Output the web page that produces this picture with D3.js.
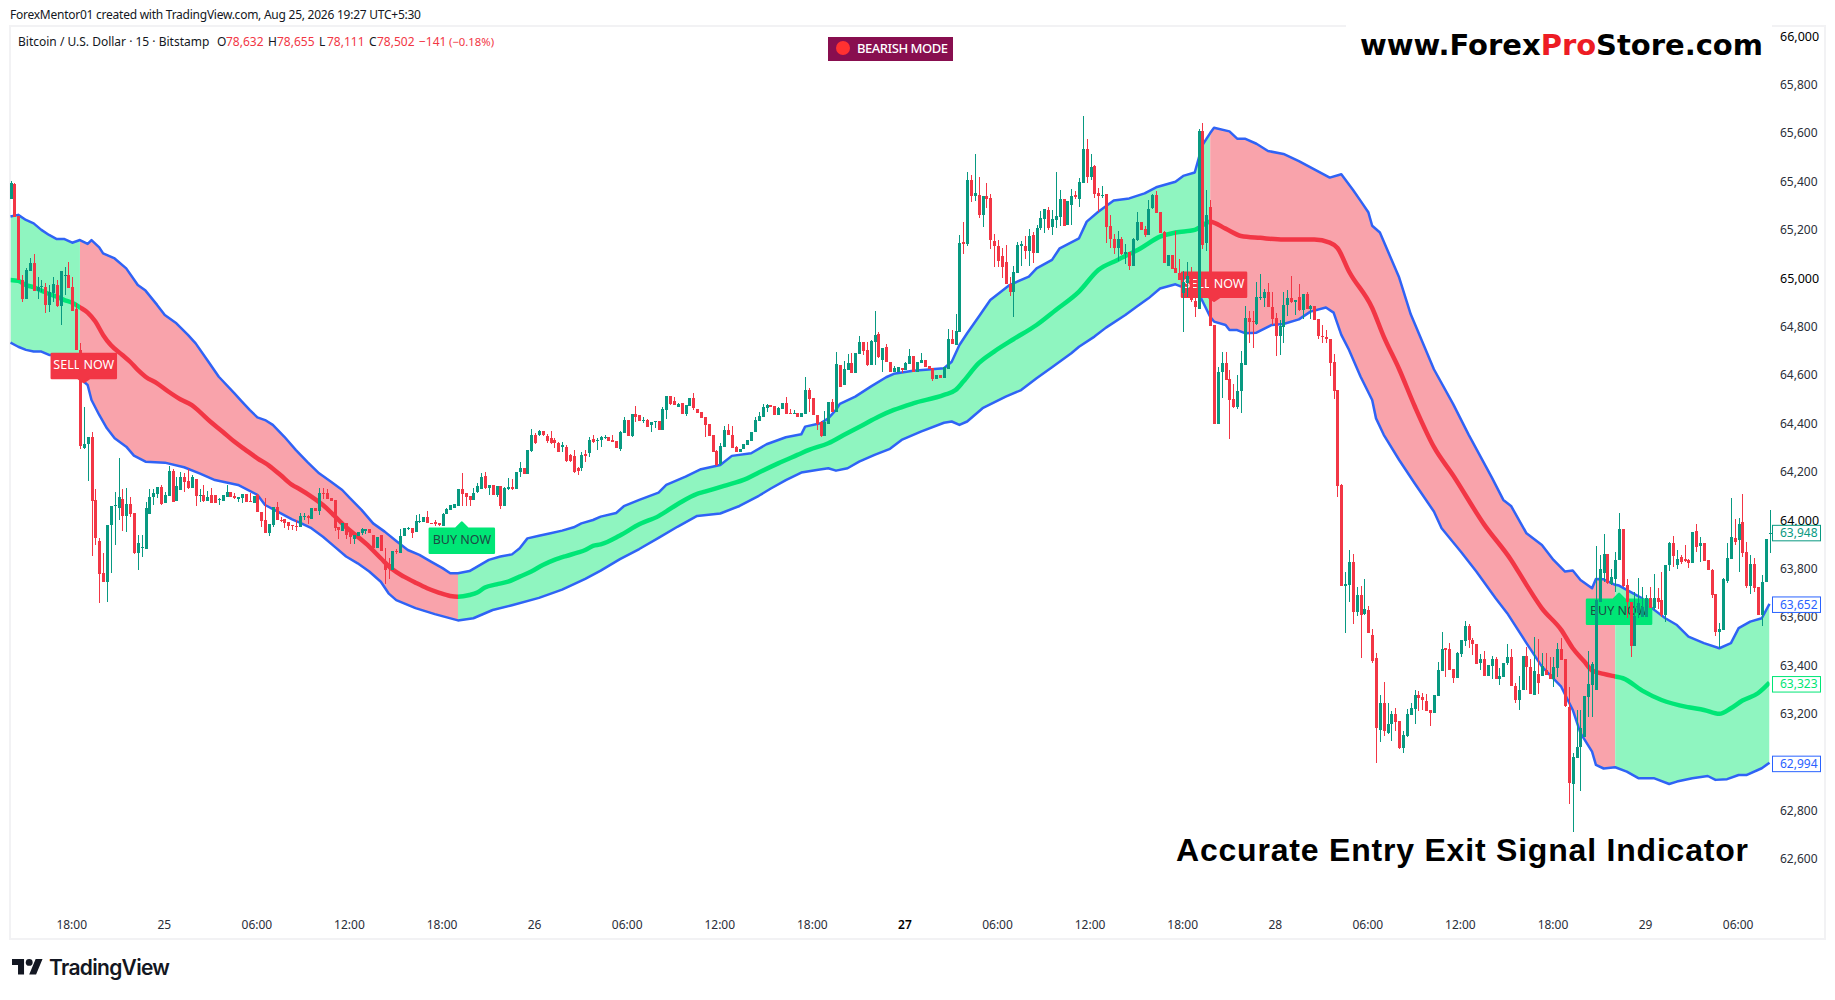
<!DOCTYPE html>
<html lang="en">
<head>
  <meta charset="UTF-8">
  <title>BTCUSD 15m - Entry Exit Signal Indicator</title>
  <style>
    body { margin: 0; background: #fff; overflow: hidden; }
    svg { display: block; }
    text { font-family: "Noto Sans", sans-serif; fill: #131722; }
    .tick text { font-family: "Noto Sans", sans-serif; font-size: 12px; fill: #2a2e39; }
    .tick.major text { font-size: 12.5px; fill: #000; }
    .up { fill: #089981; }
    .down { fill: #f23645; }
  </style>
</head>
<body>
  <div id="chart"></div>

  <script src="https://d3js.org/d3.v7.min.js"></script>
  <script>
    // candles, one per 15 minutes
    const opens = [
      65326,65390,65257,64993,64914,65032,65062,64949,64963,64963,
      64890,64941,64972,64887,65011,65014,64963,64872,64704,64300,
      64314,64343,64084,63916,63784,63746,63981,64059,64052,64088,
      64019,64067,64029,63863,63887,63881,64026,64095,64109,64139,
      64070,64100,64205,64080,64125,64178,64162,64132,64171,64100,
      64105,64080,64105,64105,64082,64081,64095,64118,64102,64087,
      64091,64109,64078,64073,64105,64036,64001,63946,63981,64056,
      64001,64004,63992,63981,63978,63974,64014,64018,64005,64052,
      64038,64111,64111,64092,64082,63971,63957,63987,63946,63921,
      63935,63946,63957,63964,63939,63884,63939,63829,63819,63795,
      63873,63866,63935,63964,63967,63952,63994,63994,64012,63989,
      63992,63989,63978,64026,64043,64049,64060,64128,64111,64100,
      64084,64118,64129,64183,64132,64146,64103,64142,64059,64129,
      64138,64131,64198,64215,64191,64286,64354,64354,64367,64349,
      64340,64332,64321,64304,64304,64270,64266,64215,64215,64274,
      64276,64335,64329,64332,64341,64343,64332,64326,64295,64362,
      64414,64348,64438,64435,64409,64413,64394,64406,64410,64373,
      64456,64514,64492,64470,64486,64438,64472,64505,64460,64447,
      64427,64398,64352,64288,64231,64304,64373,64352,64304,64280,
      64293,64313,64329,64365,64412,64428,64465,64476,64472,64435,
      64460,64485,64443,64441,64443,64427,64441,64538,64505,64435,
      64405,64348,64398,64489,64449,64642,64558,64621,64650,64610,
      64689,64737,64702,64642,64737,64768,64662,64716,64655,64614,
      64614,64629,64621,64645,64679,64614,64651,64662,64638,64628,
      64585,64600,64589,64626,64749,64725,64780,65149,65142,65406,
      65340,65343,65262,65340,65332,65154,65133,65092,65066,64975,
      64942,65023,65135,65133,65113,65179,65106,65207,65245,65282,
      65211,65241,65255,65328,65220,65303,65344,65326,65395,65534,
      65417,65464,65351,65340,65347,65216,65164,65124,65161,65099,
      65107,65052,65158,65233,65204,65179,65289,65344,65274,65191,
      65052,65096,65041,65020,64941,64982,65007,64906,64873,65609,
      65145,65293,64806,64396,64614,64649,64583,64500,64467,64536,
      64643,64835,64824,64811,64917,64917,64942,64883,64835,64763,
      64800,64890,64919,64901,64921,64869,64935,64872,64886,64832,
      64762,64756,64749,64654,64538,64146,63730,63733,63826,63622,
      63691,63613,63629,63526,63430,63133,63244,63120,63158,63200,
      63169,63058,63109,63196,63219,63278,63271,63253,63216,63205,
      63274,63379,63471,63468,63386,63350,63448,63503,63563,63505,
      63489,63409,63427,63358,63398,63427,63343,63354,63412,63434,
      63315,63257,63299,63439,63395,63278,63365,63358,63381,63363,
      63344,63391,63468,63427,63227,62910,63016,63062,63103,63271,
      63319,63299,63664,63784,63861,63737,63757,63836,63964,63733,
      63661,63482,63615,63602,63602,63677,63636,63679,63671,63609,
      63813,63905,63813,63847,63839,63836,63822,63956,63894,63905,
      63836,63795,63695,63538,63547,63749,63840,63925,63918,63991,
      63868,63728,63819,63726,63609,63744,63942
    ];
    const highs = [
      65402,65395,65257,65014,65041,65083,65100,65007,64993,64979,
      64972,65004,64993,65030,65045,65069,65007,64897,64734,64467,
      64343,64366,64128,63925,63863,63981,64059,64118,64256,64128,
      64132,64098,64029,63939,63939,64077,64128,64128,64139,64146,
      64118,64224,64212,64180,64201,64194,64212,64187,64171,64128,
      64146,64122,64132,64105,64090,64103,64146,64118,64111,64098,
      64109,64109,64111,64100,64109,64036,64091,63983,64054,64077,
      64015,64004,63992,63981,64001,64029,64029,64022,64049,64052,
      64132,64132,64128,64092,64082,63971,63987,63987,63946,63939,
      63953,63968,63963,63964,63939,63931,63939,63884,63843,63873,
      63881,63963,63967,63974,63967,64022,64026,64012,64038,63989,
      64001,63989,64029,64052,64063,64069,64129,64197,64111,64100,
      64135,64153,64194,64201,64146,64146,64142,64142,64139,64173,
      64170,64201,64242,64215,64290,64379,64362,64374,64370,64356,
      64370,64340,64325,64325,64310,64275,64290,64220,64280,64290,
      64345,64352,64340,64350,64352,64343,64352,64326,64370,64427,
      64414,64438,64472,64435,64428,64420,64405,64409,64410,64467,
      64514,64514,64511,64486,64486,64475,64505,64526,64460,64447,
      64427,64398,64352,64291,64318,64390,64398,64390,64307,64295,
      64315,64332,64365,64425,64449,64481,64481,64476,64472,64469,
      64485,64508,64460,64456,64443,64443,64591,64545,64505,64435,
      64410,64452,64489,64500,64695,64642,64658,64686,64690,64691,
      64762,64737,64738,64745,64865,64777,64711,64727,64655,64638,
      64635,64629,64656,64707,64679,64653,64690,64662,64638,64628,
      64600,64600,64635,64789,64786,64852,65179,65234,65438,65427,
      65512,65417,65340,65392,65347,65182,65158,65124,65138,65007,
      65051,65151,65154,65175,65202,65190,65220,65278,65286,65296,
      65282,65441,65365,65328,65319,65369,65362,65413,65671,65574,
      65512,65468,65372,65381,65347,65262,65182,65195,65169,65140,
      65107,65168,65274,65233,65216,65323,65348,65361,65274,65195,
      65096,65096,65195,65078,65030,65069,65045,64924,65617,65640,
      65365,65323,64806,64635,64694,64694,64621,64563,64600,64700,
      64886,64865,64865,64983,65018,64954,64979,64945,64855,64827,
      64945,64952,65010,64910,64976,64935,64945,64890,64886,64832,
      64807,64786,64749,64687,64538,64150,63788,63877,63861,63726,
      63729,63756,63646,63550,63453,63278,63330,63244,63213,63223,
      63169,63127,63219,63244,63299,63296,63285,63282,63216,63278,
      63416,63537,63474,63492,63386,63457,63505,63584,63571,63512,
      63489,63446,63460,63402,63439,63436,63388,63409,63489,63468,
      63329,63357,63439,63478,63425,63516,63509,63450,63450,63434,
      63436,63491,63512,63427,63310,63037,63216,63216,63274,63460,
      63416,63894,63857,63942,63861,63797,63868,64031,63964,63756,
      63661,63705,63760,63726,63691,63723,63778,63719,63785,63815,
      63912,63935,63877,63856,63896,63839,63950,63983,63932,63908,
      63836,63797,63695,63577,63760,63905,64091,64004,64008,64109,
      63912,63856,63843,63726,63774,63921,64042
    ];
    const lows = [
      65326,65255,64993,64903,64914,65032,64949,64914,64945,64858,
      64862,64903,64883,64807,64931,64961,64866,64704,64296,64293,
      64162,63852,63898,63660,63746,63664,63781,63898,64003,63957,
      63953,64015,63861,63795,63850,63881,64026,64063,64091,64063,
      64070,64100,64077,64080,64125,64118,64128,64132,64059,64077,
      64077,64080,64073,64073,64063,64081,64095,64098,64087,64077,
      64070,64077,64076,64073,64036,63974,63946,63935,63974,64001,
      63993,63967,63960,63960,63956,63974,64001,63985,64005,64040,
      64022,64087,64088,64081,63957,63923,63957,63923,63902,63902,
      63935,63939,63943,63946,63863,63884,63874,63737,63756,63795,
      63861,63866,63935,63960,63927,63952,63987,63994,63987,63985,
      63976,63976,63978,64026,64043,64049,64060,64060,64059,64059,
      64084,64111,64129,64129,64105,64105,64098,64047,64059,64125,
      64125,64131,64180,64191,64191,64280,64315,64350,64350,64320,
      64315,64300,64280,64283,64240,64240,64195,64187,64205,64240,
      64260,64321,64290,64301,64337,64329,64325,64300,64288,64362,
      64348,64342,64406,64412,64403,64387,64366,64380,64373,64373,
      64419,64477,64475,64470,64439,64431,64472,64456,64442,64424,
      64344,64348,64284,64226,64228,64304,64352,64299,64284,64280,
      64293,64313,64329,64365,64412,64428,64449,64470,64435,64435,
      64460,64441,64441,64441,64427,64427,64441,64449,64435,64373,
      64344,64348,64396,64449,64449,64552,64558,64621,64610,64610,
      64689,64683,64639,64642,64642,64669,64614,64655,64614,64614,
      64614,64607,64621,64645,64614,64614,64651,64635,64627,64577,
      64585,64589,64589,64626,64729,64725,64780,65100,65133,65317,
      65319,65248,65213,65289,65121,65048,65048,65000,64977,64927,
      64841,65023,65052,65078,65052,65062,65106,65200,65186,65200,
      65179,65206,65216,65216,65220,65220,65328,65293,65392,65395,
      65406,65333,65273,65330,65144,65124,65100,65073,65096,65059,
      65034,65052,65155,65200,65172,65179,65285,65271,65189,65065,
      65052,65038,65020,64993,64779,64924,64903,64841,64873,65121,
      65114,64804,64396,64396,64504,64580,64335,64462,64458,64442,
      64643,64734,64713,64807,64910,64883,64883,64807,64679,64683,
      64734,64846,64896,64848,64866,64830,64872,64832,64828,64749,
      64734,64734,64598,64501,64094,63730,63533,63664,63570,63604,
      63432,63609,63533,63412,62996,63085,63110,63117,63089,63127,
      63055,63040,63103,63196,63158,63213,63216,63213,63150,63205,
      63274,63379,63354,63381,63329,63350,63436,63481,63473,63443,
      63406,63381,63358,63358,63343,63343,63320,63354,63402,63313,
      63246,63216,63299,63299,63282,63278,63282,63358,63361,63345,
      63312,63354,63423,63230,62828,62713,63016,62879,63103,63188,
      63188,63299,63664,63746,63737,63733,63705,63836,63723,63595,
      63434,63482,63595,63599,63599,63636,63629,63633,63599,63581,
      63792,63808,63797,63819,63829,63804,63822,63870,63829,63832,
      63795,63680,63522,63471,63547,63739,63840,63898,63788,63847,
      63721,63695,63705,63609,63564,63744,63866
    ];
    const closes = [
      65392,65255,64993,64914,65034,65062,64949,64963,64967,64891,
      64945,64975,64887,65030,65014,64961,64866,64704,64307,64314,
      64343,64081,63928,63778,63746,63981,64059,64063,64098,64018,
      64066,64026,63863,63905,63891,64051,64098,64114,64136,64066,
      64103,64204,64077,64143,64178,64156,64132,64178,64100,64105,
      64081,64098,64073,64073,64087,64103,64118,64098,64091,64098,
      64109,64077,64076,64100,64036,63997,63949,63983,64054,64001,
      63997,63990,63978,63975,63975,64018,64018,64011,64049,64040,
      64111,64107,64088,64081,63970,63960,63987,63939,63930,63939,
      63953,63963,63963,63946,63884,63931,63874,63795,63812,63873,
      63869,63935,63967,63968,63949,63997,63997,64012,63987,63985,
      63986,63982,64026,64048,64063,64066,64129,64109,64098,64084,
      64111,64142,64180,64132,64146,64105,64142,64059,64132,64138,
      64129,64201,64215,64191,64290,64354,64320,64367,64354,64328,
      64320,64318,64284,64311,64246,64246,64201,64205,64270,64267,
      64332,64325,64332,64344,64346,64329,64325,64300,64366,64414,
      64348,64438,64427,64412,64413,64387,64405,64409,64373,64461,
      64514,64481,64475,64481,64439,64475,64505,64464,64442,64424,
      64395,64348,64284,64228,64307,64373,64352,64299,64284,64295,
      64315,64332,64365,64414,64431,64470,64476,64470,64435,64465,
      64485,64441,64441,64443,64427,64443,64538,64503,64435,64397,
      64348,64408,64489,64449,64646,64552,64625,64649,64610,64691,
      64737,64701,64642,64741,64766,64673,64711,64655,64614,64631,
      64635,64621,64649,64679,64614,64653,64662,64635,64627,64584,
      64600,64589,64635,64749,64729,64782,65145,65143,65406,65340,
      65351,65262,65340,65329,65158,65133,65071,65045,64977,64945,
      65025,65138,65140,65113,65176,65103,65209,65251,65286,65206,
      65245,65257,65328,65216,65319,65340,65337,65397,65534,65420,
      65459,65350,65340,65344,65213,65161,65124,65161,65100,65107,
      65052,65162,65231,65200,65179,65286,65344,65271,65189,65065,
      65096,65038,65020,64993,64986,65011,64910,64881,65609,65138,
      65262,64804,64396,64611,64649,64580,64497,64467,64534,64649,
      64835,64821,64819,64921,64921,64945,64883,64832,64763,64804,
      64890,64919,64901,64910,64869,64935,64872,64886,64828,64762,
      64759,64748,64651,64536,64143,63730,63737,63826,63622,63691,
      63609,63632,63536,63420,63143,63244,63127,63158,63200,63165,
      63058,63113,63200,63225,63278,63267,63257,63213,63205,63278,
      63381,63468,63465,63381,63350,63450,63505,63563,63505,63489,
      63406,63427,63358,63402,63427,63343,63357,63409,63434,63313,
      63257,63299,63439,63395,63282,63377,63326,63398,63361,63345,
      63395,63468,63423,63233,62913,63020,63062,63140,63274,63324,
      63406,63671,63797,63861,63740,63764,63836,63964,63728,63661,
      63482,63606,63657,63643,63677,63636,63677,63664,63609,63815,
      63905,63852,63839,63829,63833,63825,63950,63891,63905,63832,
      63795,63691,63538,63549,63757,63843,63930,63909,63985,63866,
      63728,63819,63719,63609,63744,63921,63948
    ];

    // indicator lines: bar numbers where each was read, and the price there
    const upperBars = [0,2,4,6,8,10,12,14,16,18,20,21,23,24,27,30,33,35,38,40,43,46,48,51,54,58,60,62,64,66,68,71,74,77,80,83,86,88,91,94,97,100,103,106,109,112,114,116,119,121,124,127,130,132,134,137,140,143,146,148,151,153,157,159,163,168,170,175,179,184,187,192,196,201,205,206,210,212,214,215,219,223,227,229,234,242,244,246,248,251,254,259,264,266,270,272,277,279,282,286,290,294,297,302,304,307,309,311,312,316,318,320,323,326,330,334,338,342,345,348,350,352,353,355,360,363,369,374,378,384,387,389,393,397,400,403,405,407,410,411,413,416,417,419,423,425,429,432,435,439,443,446,448,451,454,456];
    const upperBand = [65255,65262,65241,65227,65200,65179,65162,65162,65147,65158,65142,65158,65128,65103,65082,65041,64972,64949,64890,64848,64814,64766,64731,64662,64593,64525,64490,64456,64425,64414,64394,64345,64290,64240,64194,64160,64125,64091,64043,63987,63953,63914,63877,63857,63829,63802,63781,63781,63790,63808,63836,63850,63859,63884,63925,63936,63946,63957,63971,63987,64001,64015,64030,64058,64084,64114,64146,64180,64211,64228,64266,64277,64314,64343,64355,64387,64401,64421,64456,64481,64511,64552,64591,64605,64618,64628,64655,64724,64773,64841,64910,64972,65007,65041,65076,65124,65165,65234,65275,65321,65330,65351,65376,65399,65423,65437,65551,65600,65622,65607,65577,65577,65556,65526,65514,65484,65450,65416,65430,65366,65320,65273,65217,65189,65003,64851,64624,64480,64354,64177,64084,64059,63946,63898,63836,63788,63792,63753,63719,63757,63756,63733,63730,63712,63677,63643,63595,63567,63519,63492,63471,63492,63554,63581,63595,63654];

    const midBars = [0,2,4,6,8,10,12,14,16,18,20,22,24,26,29,31,33,35,38,41,44,47,49,52,55,58,61,64,67,70,73,75,78,81,84,87,90,93,96,99,102,105,108,111,114,116,119,121,123,126,129,132,135,138,141,144,147,149,151,153,158,163,168,173,178,180,185,191,194,199,204,207,212,216,221,225,229,234,242,245,247,251,255,260,266,271,277,282,287,293,298,302,307,311,315,319,324,330,338,342,344,347,353,356,360,364,369,374,382,389,393,397,402,405,408,410,413,416,418,423,428,435,439,443,446,449,453,456];
    const midBand = [64993,64989,64972,64963,64949,64935,64924,64910,64899,64880,64858,64821,64766,64724,64683,64655,64621,64593,64566,64531,64500,64476,64449,64405,64366,64325,64290,64256,64226,64187,64146,64128,64098,64063,64018,63971,63932,63891,63843,63797,63767,63742,63719,63701,63687,63684,63691,63701,63722,63735,63746,63767,63788,63815,63836,63852,63866,63877,63894,63900,63937,63983,64017,64067,64109,64118,64142,64173,64197,64235,64270,64291,64318,64352,64394,64428,64456,64483,64518,64538,64573,64649,64697,64748,64807,64869,64945,65034,65076,65124,65172,65189,65200,65234,65205,65175,65167,65160,65160,65147,65125,65028,64877,64759,64624,64472,64303,64185,63983,63836,63733,63636,63547,63471,63416,63379,63365,63354,63347,63296,63257,63227,63216,63200,63223,63255,63285,63329];

    const lowerBars = [0,2,4,6,8,10,12,14,16,18,20,21,23,25,27,30,32,35,40,45,49,53,59,64,66,69,73,75,78,81,84,87,90,93,96,98,100,105,110,116,120,125,130,137,143,149,153,158,163,168,173,178,184,189,194,197,201,205,209,212,214,217,220,224,228,231,236,242,244,246,248,252,258,262,266,270,275,277,281,284,289,292,295,298,302,308,311,312,315,316,318,320,323,327,330,334,337,341,343,345,347,350,353,354,356,360,364,369,371,376,380,385,388,393,397,402,405,407,410,411,413,416,419,422,426,430,432,436,440,442,445,448,450,454,456];
    const lowerBand = [64734,64717,64704,64697,64697,64683,64683,64660,64621,64587,64559,64497,64435,64380,64339,64304,64267,64242,64238,64219,64194,64166,64146,64105,64063,64038,64004,63990,63967,63932,63891,63850,63822,63788,63746,63698,63670,63637,63612,63586,63595,63629,63649,63679,63713,63758,63792,63839,63881,63927,63974,64018,64028,64059,64101,64130,64166,64197,64208,64215,64205,64215,64242,64270,64295,64332,64366,64403,64408,64394,64408,64463,64511,64538,64587,64632,64690,64717,64759,64796,64848,64883,64917,64958,64975,64938,64841,64821,64807,64786,64786,64773,64775,64807,64811,64830,64862,64879,64858,64766,64704,64593,64497,64421,64353,64249,64153,64036,63967,63870,63788,63678,63616,63492,63395,63312,63216,63120,63044,62989,62974,62979,62961,62934,62934,62910,62920,62934,62943,62927,62930,62947,62947,62975,62998];

    // trend changes: bar number where each stretch starts, and its direction
    const trendStarts = [0, 18, 116, 311, 416];
    const trendEnds = [18, 116, 311, 416, 456];
    const trendDirs = ['bull', 'bear', 'bull', 'bear', 'bull'];

    const signalBars = [19, 117, 312, 417];
    const signalPrices = [64567, 63994, 64903, 63700];
    const signalTypes = ['SELL NOW', 'BUY NOW', 'SELL NOW', 'BUY NOW'];

    const priceTicks = [66000,65800,65600,65400,65200,65000,64800,64600,64400,64200,64000,63800,63600,63400,63200,62800,62600];
    const majorTicks = [66000, 65000, 64000];
    const timeBars = [16,40,64,88,112,136,160,184,208,232,256,280,304,328,352,376,400,424,448];
    const timeLabels = ['18:00','25','06:00','12:00','18:00','26','06:00','12:00','18:00','27','06:00','12:00','18:00','28','06:00','12:00','18:00','29','06:00'];

    const lastValues = [63948, 63652, 63323, 62994];
    const lastColors = ['#089981', '#2962ff', '#00e676', '#2962ff'];

    const UP = '#089981', DOWN = '#f23645', BLUE = '#2f63f5', MINT = '#00e676';
    const fillColors = { bull: '#8ff5c0', bear: '#f9a3ab' };
    const midColors = { bull: MINT, bear: DOWN };

    const width = 1835, height = 1000;
    const frame = { left: 10, top: 26, right: 1825, bottom: 939 };

    const svg = d3.select('#chart').append('svg')
      .attr('width', width)
      .attr('height', height);

    const x = d3.scaleLinear().domain([0, 456]).range([10.5, 1769.5]);
    const y = d3.scaleLinear().domain([62600, 66000]).range([859, 36.3]);

    // frame and header
    svg.append('rect')
      .attr('x', frame.left).attr('y', frame.top)
      .attr('width', frame.right - frame.left).attr('height', frame.bottom - frame.top)
      .attr('fill', '#fff').attr('stroke', '#f2f2f4').attr('stroke-width', 2);

    svg.append('text').attr('x', 10).attr('y', 19)
      .style('font-size', '12px')
      .attr('textLength', 411)
      .text('ForexMentor01 created with TradingView.com, Aug 25, 2026 19:27 UTC+5:30');

    const legendBits = [
      ['Bitcoin / U.S. Dollar · 15 · Bitstamp', 18, '#131722'],
      ['O', 217, '#131722'], ['78,632', 226, DOWN],
      ['H', 268, '#131722'], ['78,655', 277, DOWN],
      ['L', 319, '#131722'], ['78,111', 327, DOWN],
      ['C', 369, '#131722'], ['78,502', 377, DOWN],
      ['−141', 419, DOWN], ['(−0.18%)', 449, DOWN]
    ];
    svg.append('g').selectAll('text').data(legendBits).join('text')
      .attr('x', d => d[1]).attr('y', 46)
      .style('font-size', d => d[0].startsWith('(') ? '11.3px' : '12px')
      .style('fill', d => d[2])
      .text(d => d[0]);

    const defs = svg.append('defs');
    defs.append('clipPath').attr('id', 'plot').append('rect')
      .attr('x', frame.left).attr('y', frame.top)
      .attr('width', 1773 - frame.left).attr('height', frame.bottom - frame.top);

    trendDirs.forEach((d, i) => {
      defs.append('clipPath').attr('id', 'trend' + i).append('rect')
        .attr('x', x(trendStarts[i])).attr('y', 0)
        .attr('width', x(trendEnds[i]) - x(trendStarts[i])).attr('height', height);
    });

    const plot = svg.append('g').attr('clip-path', 'url(#plot)');

    // band fill, one copy per trend stretch clipped to its bars
    const upperPts = upperBars.map((b, i) => [x(b), y(upperBand[i])]);
    const lowerPts = lowerBars.map((b, i) => [x(b), y(lowerBand[i])]);
    const midPts = midBars.map((b, i) => [x(b), y(midBand[i])]);
    const line = d3.line();
    const bandPath = line(upperPts.concat(lowerPts.slice().reverse())) + 'Z';

    trendDirs.forEach((d, i) => {
      plot.append('path')
        .attr('d', bandPath)
        .attr('fill', fillColors[d])
        .attr('clip-path', `url(#trend${i})`);
    });

    [upperPts, lowerPts].forEach(pts => {
      plot.append('path')
        .attr('d', line(pts))
        .attr('fill', 'none').attr('stroke', BLUE)
        .attr('stroke-width', 2.5).attr('stroke-linejoin', 'round');
    });

    trendDirs.forEach((d, i) => {
      plot.append('path')
        .attr('d', d3.line().curve(d3.curveMonotoneX)(midPts))
        .attr('fill', 'none').attr('stroke', midColors[d])
        .attr('stroke-width', 4.5).attr('stroke-linejoin', 'round')
        .attr('clip-path', `url(#trend${i})`);
    });

    // signal labels sit under the candles
    const signals = plot.append('g').selectAll('g')
      .data(signalBars.map((b, i) => i))
      .join('g')
      .attr('transform', i => `translate(${x(signalBars[i])},${y(signalPrices[i])})`);

    signals.append('path')
      .attr('fill', i => signalTypes[i].startsWith('SELL') ? DOWN : MINT)
      .attr('d', i => signalTypes[i].startsWith('SELL')
        ? 'M-32,-29H32V-5H6L0,-1L-6,-5H-32Z'
        : 'M-32,7H-6L0,1L6,7H32V31H-32Z')
      .attr('stroke-linejoin', 'round')
      .attr('stroke', i => signalTypes[i].startsWith('SELL') ? DOWN : MINT)
      .attr('stroke-width', 2.5);

    signals.append('text')
      .attr('text-anchor', 'middle')
      .attr('y', i => signalTypes[i].startsWith('SELL') ? -14 : 22)
      .style('font-size', '12.5px')
      .style('fill', i => signalTypes[i].startsWith('SELL') ? '#fff' : '#1d4a44')
      .text(i => signalTypes[i]);

    // candles
    const candles = plot.append('g').attr('shape-rendering', 'crispEdges')
      .selectAll('g')
      .data(opens.map((o, i) => i))
      .join('g')
      .attr('class', i => closes[i] >= opens[i] ? 'up' : 'down');

    candles.append('rect')
      .attr('x', i => Math.round(x(i)))
      .attr('width', 1)
      .attr('y', i => y(highs[i]))
      .attr('height', i => y(lows[i]) - y(highs[i]));

    candles.append('rect')
      .attr('x', i => Math.round(x(i)) - 1)
      .attr('width', 3)
      .attr('y', i => y(Math.max(opens[i], closes[i])))
      .attr('height', i => Math.max(1, Math.abs(y(opens[i]) - y(closes[i]))));

    // price axis
    const yAxis = d3.axisRight(y)
      .tickValues(priceTicks)
      .tickFormat(d3.format(','))
      .tickSize(0)
      .tickPadding(0);

    const yAxisG = svg.append('g')
      .attr('transform', 'translate(1780,0)')
      .call(yAxis);
    yAxisG.select('.domain').remove();
    yAxisG.selectAll('.tick')
      .classed('major', d => majorTicks.includes(d));

    // last value tags
    const tags = svg.append('g').selectAll('g')
      .data(lastValues.map((v, i) => i))
      .join('g')
      .attr('transform', i => `translate(1772,${y(lastValues[i])})`);

    tags.append('rect')
      .attr('x', 0.5).attr('y', -7.5)
      .attr('width', 48).attr('height', 15.5)
      .attr('fill', '#fff')
      .attr('stroke', i => lastColors[i]);

    tags.append('text')
      .attr('x', 8).attr('y', 4.3)
      .style('font-size', '12px')
      .style('fill', i => lastColors[i])
      .text(i => d3.format(',')(lastValues[i]));

    // time axis
    const xAxis = d3.axisBottom(x)
      .tickValues(timeBars)
      .tickFormat((d, i) => timeLabels[i])
      .tickSize(0)
      .tickPadding(0);

    const xAxisG = svg.append('g')
      .attr('transform', 'translate(-1,920)')
      .call(xAxis);
    xAxisG.select('.domain').remove();
    xAxisG.selectAll('.tick')
      .classed('major', d => d === 232);
    xAxisG.selectAll('.tick.major text').style('font-weight', 600).style('font-size', '12px');

    // mode badge
    const badge = svg.append('g');
    badge.append('rect')
      .attr('x', 828).attr('y', 37)
      .attr('width', 125).attr('height', 24)
      .attr('fill', '#880e4f');
    badge.append('circle')
      .attr('cx', 843).attr('cy', 48).attr('r', 7)
      .attr('fill', '#ff3131');
    badge.append('text')
      .attr('x', 857).attr('y', 53)
      .attr('textLength', 91)
      .style('font-size', '13px').style('font-weight', 500).style('fill', '#fff')
      .text('BEARISH MODE');

    // overlays added on the screenshot
    svg.append('rect')
      .attr('x', 1346).attr('y', 22)
      .attr('width', 426).attr('height', 8)
      .attr('fill', '#fff');

    const site = svg.append('text')
      .attr('x', 1360).attr('y', 55)
      .attr('textLength', 403)
      .style('font-family', '"DejaVu Sans", sans-serif')
      .style('font-weight', 700)
      .style('font-size', '29px')
      .style('fill', '#000');
    site.append('tspan').text('www.Forex');
    site.append('tspan').style('fill', '#ed1c24').text('Pro');
    site.append('tspan').text('Store.com');

    svg.append('text')
      .attr('x', 1176).attr('y', 861)
      .attr('textLength', 572)
      .style('font-family', '"Liberation Sans", sans-serif')
      .style('font-weight', 700)
      .style('font-size', '32px')
      .style('fill', '#000')
      .text('Accurate Entry Exit Signal Indicator');

    // TradingView logo
    const logo = svg.append('g').attr('transform', 'translate(12,955.5) scale(0.86)');
    logo.append('path').attr('fill', '#131722')
      .attr('d', 'M14 22H7V11H0V4h14v18zM28 22h-8l7.5-18h8L28 22z');
    logo.append('circle').attr('cx', 20).attr('cy', 8).attr('r', 4).attr('fill', '#131722');

    svg.append('text')
      .attr('x', 49).attr('y', 975)
      .attr('textLength', 121)
      .style('font-family', 'Inter, sans-serif')
      .style('font-weight', 600)
      .style('font-size', '21px')
      .text('TradingView');
  </script>
</body>
</html>
